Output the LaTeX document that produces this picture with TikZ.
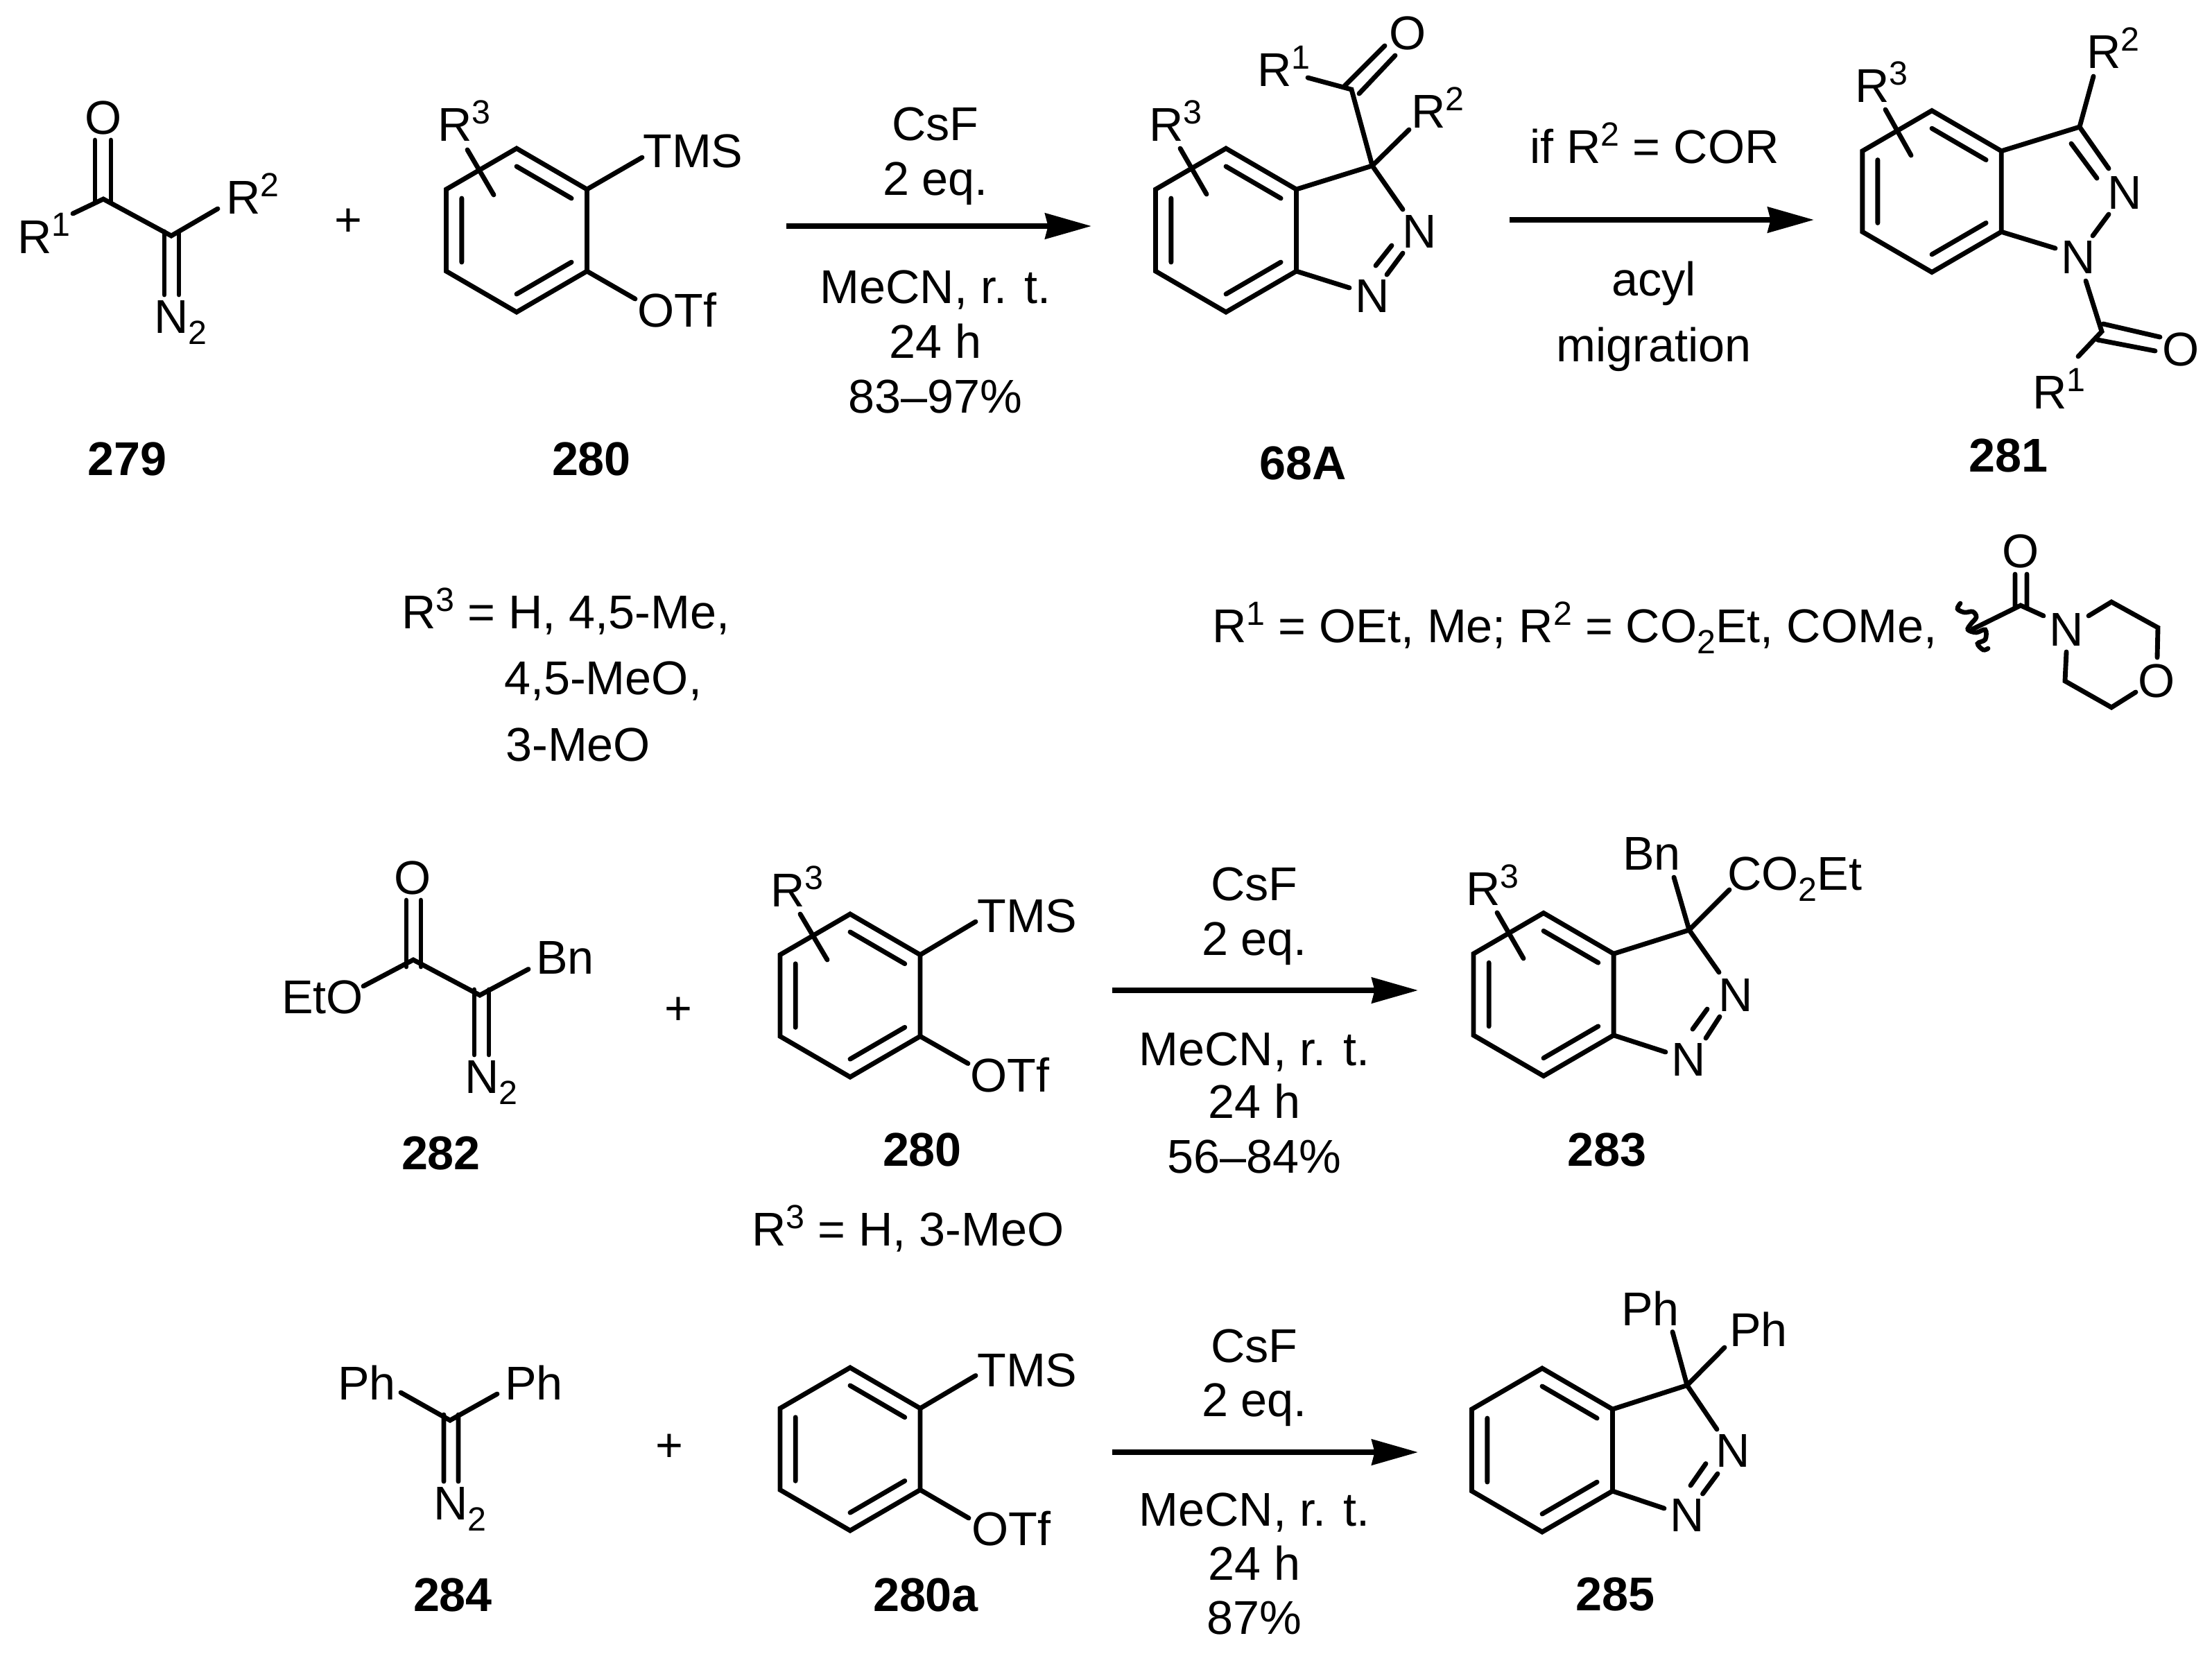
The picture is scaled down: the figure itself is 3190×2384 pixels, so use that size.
\documentclass[tikz,border=0pt]{standalone}
\usepackage{fontspec}
\setmainfont{Liberation Sans}
\usetikzlibrary{arrows.meta}
\newcommand{\mainf}{\fontsize{16.4pt}{19pt}\selectfont}
\newcommand{\sps}[1]{\raisebox{6pt}{\fontsize{11.6pt}{13pt}\selectfont #1}}
\newcommand{\sbs}[1]{\raisebox{-3.84pt}{\fontsize{11.6pt}{13pt}\selectfont #1}}
\newcommand{\C}[3]{\coordinate (#1) at (#2,#3);}
% benzene ring: name, cx, cy, R; double bonds top-right, lower-right, left
\newcommand{\benz}[4]{%
  \pgfmathsetmacro{\hx}{0.86*#4}\pgfmathsetmacro{\hy}{0.5*#4}%
  \C{#1a}{#2}{#3-#4}\C{#1b}{#2+\hx}{#3-\hy}\C{#1c}{#2+\hx}{#3+\hy}%
  \C{#1d}{#2}{#3+#4}\C{#1e}{#2-\hx}{#3+\hy}\C{#1f}{#2-\hx}{#3-\hy}%
  \C{#1ia}{#2}{#3-0.78*#4}\C{#1ib}{#2+0.78*\hx}{#3-0.78*\hy}\C{#1ic}{#2+0.78*\hx}{#3+0.78*\hy}%
  \C{#1id}{#2}{#3+0.78*#4}\C{#1ie}{#2-0.78*\hx}{#3+0.78*\hy}\C{#1if}{#2-0.78*\hx}{#3-0.78*\hy}%
  \draw[ring] (#1a)--(#1b)--(#1c)--(#1d)--(#1e)--(#1f)--cycle;
  \draw[bond] (#1ia)--(#1ib) (#1ic)--(#1id) (#1ie)--(#1if);}
\tikzset{
  x=0.24pt,y=-0.24pt,
  bond/.style={line width=1.65pt,line cap=round,line join=miter},
  ring/.style={line width=1.65pt,line join=miter},
  rxn/.style={line width=1.8pt,-{Stealth[length=16pt,width=8.8pt,inset=1pt]}},
  lab/.style={anchor=base west,inner sep=0pt,outer sep=0pt,font=\mainf,xshift=-0.9pt},
  ctr/.style={anchor=base,inner sep=0pt,outer sep=0pt,font=\mainf},
  num/.style={anchor=base,inner sep=0pt,outer sep=0pt,font=\mainf\bfseries},
}
\begin{document}
\begin{tikzpicture}
\path[use as bounding box,fill=white] (0,0) rectangle (3190,2384);

%% ---- 279
\C{aO1}{137}{202}\C{aO2}{137}{292}\C{aO3}{160}{202}\C{aO4}{160}{292}
\C{aR1}{105}{308}\C{aC1}{149}{287}\C{aC2}{247}{340}\C{aR2}{314}{301}
\C{aN1}{237}{334}\C{aN2}{237}{425}\C{aN3}{258}{334}\C{aN4}{258}{425}
\draw[bond] (aO1)--(aO2) (aO3)--(aO4) (aN1)--(aN2) (aN3)--(aN4);
\draw[bond] (aR1)--(aC1)--(aC2)--(aR2);
\node[ctr] (aO) at (149,193) {O};
\node[lab] (aR1t) at (29,365) {R\sps{1}};
\node[lab] (aR2t) at (330,308) {R\sps{2}};
\node[lab] (aNt) at (226,480) {N\sbs{2}};
\node[num] (n279) at (184,685) {279};
\node[ctr] (plus1) at (502,340) {+};

%% ---- 280
\benz{b}{745}{332}{118}
\C{bR1}{674}{216}\C{bR2}{712}{281}\C{bT}{926}{227}\C{bO}{916}{431}
\draw[bond] (bR1)--(bR2) (bb)--(bT) (bc)--(bO);
\node[lab] (bR3t) at (635,203) {R\sps{3}};
\node[lab] (bTMS) at (931,241) {TMS};
\node[lab] (bOTf) at (923,471) {OTf};
\node[num] (n280) at (853,685) {280};

%% ---- arrow 1
\C{r1s}{1134}{326}\C{r1e}{1574}{326}
\draw[rxn] (r1s)--(r1e);
\node[ctr] (r1a) at (1349,202) {CsF};
\node[ctr] (r1b) at (1349,281) {2 eq.};
\node[ctr] (r1c) at (1349,437) {MeCN, r. t.};
\node[ctr] (r1d) at (1349,516) {24 h};
\node[ctr] (r1f) at (1349,595) {83–97\%};

%% ---- 68A
\benz{c}{1768}{332}{118}
\C{cR1}{1702}{214}\C{cR2}{1740}{280}
\C{cQ}{1979}{239}\C{cNa}{2023}{302}\C{cNb}{1946}{415}
\C{cC}{1949}{129}\C{cRa}{1886}{112}\C{cRb}{2032}{187}
\C{cd1}{1939}{124}\C{cd2}{1997}{66}\C{cd3}{1960}{135}\C{cd4}{2012}{80}
\C{cn1}{2007}{354}\C{cn2}{1984}{383}\C{cn3}{2023}{365}\C{cn4}{2000}{396}
\draw[bond] (cR1)--(cR2) (cb)--(cQ)--(cNa) (cc)--(cNb) (cQ)--(cC)--(cRa) (cQ)--(cRb);
\draw[bond] (cd1)--(cd2) (cd3)--(cd4) (cn1)--(cn2) (cn3)--(cn4);
\node[lab] (cR3t) at (1661,203) {R\sps{3}};
\node[lab] (cR1t) at (1817,124) {R\sps{1}};
\node[lab] (cR2t) at (2039,184) {R\sps{2}};
\node[ctr] (cO) at (2030,71) {O};
\node[ctr] (cNu) at (2047,357) {N};
\node[ctr] (cNl) at (1979,450) {N};
\node[num] (n68A) at (1879,691) {68A};

%% ---- arrow 2
\C{r2s}{2177}{317}\C{r2e}{2616}{317}
\draw[rxn] (r2s)--(r2e);
\node[ctr] (r2a) at (2386,235) {if R\sps{2} = COR};
\node[ctr] (r2b) at (2385,426) {acyl};
\node[ctr] (r2c) at (2385,521) {migration};

%% ---- 281
\benz{d}{2786}{276}{116.5}
\C{dR1}{2719}{158}\C{dR2}{2756}{224}
\C{dQ}{2999}{183}\C{dRa}{3019}{110}\C{dn1}{3041}{243}\C{dn2}{2987}{207}\C{dn3}{3024}{257}
\C{dm1}{3041}{309}\C{dm2}{3018}{340}\C{dNb}{2964}{358}
\C{dNc}{3008}{405}\C{dC}{3031}{478}\C{dRb}{2997}{514}
\C{do1}{3033}{467}\C{do2}{3115}{486}\C{do3}{3025}{490}\C{do4}{3108}{506}
\draw[bond] (dR1)--(dR2) (db)--(dQ)--(dn1) (dn2)--(dn3) (dQ)--(dRa) (dm1)--(dm2) (dc)--(dNb);
\draw[bond] (dNc)--(dC)--(dRb) (do1)--(do2) (do3)--(do4);
\node[lab] (dR3t) at (2679,147) {R\sps{3}};
\node[lab] (dR2t) at (3013,98) {R\sps{2}};
\node[lab] (dR1t) at (2935,589) {R\sps{1}};
\node[ctr] (dNu) at (3064,301) {N};
\node[ctr] (dNl) at (2997,394) {N};
\node[ctr] (dO) at (3145,527) {O};
\node[num] (n281) at (2896,680) {281};

%% ---- substituent lines
\node[lab] (s1) at (583,906) {R\sps{3} = H, 4,5-Me,};
\node[lab] (s2) at (731,1001) {4,5-MeO,};
\node[lab] (s3) at (733,1097) {3-MeO};
\node[lab] (s4) at (1752,926) {R\sps{1} = OEt, Me; R\sps{2} = CO\sbs{2}Et, COMe,};

%% ---- morpholine amide
\C{mW}{2845}{907}\C{mC}{2914}{873}\C{mN1}{2947}{888}
\C{mo1}{2906}{828}\C{mo2}{2906}{877}\C{mo3}{2923}{828}\C{mo4}{2923}{877}
\C{mA}{3012}{888}\C{mB}{3045}{868}\C{mD}{3112}{905}\C{mE}{3111}{948}
\C{mF}{3080}{998}\C{mG}{3045}{1020}\C{mH}{2978}{982}\C{mI}{2980}{940}
\draw[bond] (mW)--(mC)--(mN1) (mo1)--(mo2) (mo3)--(mo4);
\draw[bond] (mA)--(mB)--(mD)--(mE) (mF)--(mG)--(mH)--(mI);
\draw[line width=1.6pt,line cap=round] plot[smooth,tension=0.6] coordinates
  {(2827,870) (2823,878) (2833,883) (2845,882) (2850,890) (2842,900) (2838,908) (2850,912) (2863,908) (2863,922) (2852,928) (2860,937) (2867,935)};
\node[ctr] (mOa) at (2914,818) {O};
\node[ctr] (mNt) at (2980,931) {N};
\node[ctr] (mOb) at (3110,1005) {O};

%% ---- 282
\C{eo1}{586}{1298}\C{eo2}{586}{1394}\C{eo3}{607}{1298}\C{eo4}{607}{1394}
\C{eE}{524}{1422}\C{eC1}{596}{1384}\C{eC2}{692}{1435}\C{eB}{762}{1397.5}
\C{en1}{684}{1427}\C{en2}{684}{1521}\C{en3}{705}{1427}\C{en4}{705}{1521}
\draw[bond] (eo1)--(eo2) (eo3)--(eo4) (en1)--(en2) (en3)--(en4);
\draw[bond] (eE)--(eC1)--(eC2)--(eB);
\node[ctr] (eO) at (595,1289) {O};
\node[lab] (eEt) at (410,1461) {EtO};
\node[lab] (eBn) at (777,1404) {Bn};
\node[lab] (eNt) at (674,1576) {N\sbs{2}};
\node[num] (n282) at (636,1686) {282};
\node[ctr] (plus2) at (978,1477) {+};

%% ---- 280 second row
\benz{f}{1226}{1435.5}{117.5}
\C{fR1}{1154}{1318}\C{fR2}{1193}{1384}\C{fT}{1407}{1329}\C{fO}{1396}{1533.5}
\draw[bond] (fR1)--(fR2) (fb)--(fT) (fc)--(fO);
\node[lab] (fR3t) at (1115,1307.5) {R\sps{3}};
\node[lab] (fTMS) at (1413,1344) {TMS};
\node[lab] (fOTf) at (1403,1574) {OTf};
\node[num] (n280b) at (1330,1681) {280};
\node[lab] (s5) at (1088,1796) {R\sps{3} = H, 3-MeO};

%% ---- arrow 3
\C{r3s}{1604}{1428}\C{r3e}{2045}{1428}
\draw[rxn] (r3s)--(r3e);
\node[ctr] (r3a) at (1809,1298) {CsF};
\node[ctr] (r3b) at (1809,1377) {2 eq.};
\node[ctr] (r3c) at (1809,1536) {MeCN, r. t.};
\node[ctr] (r3d) at (1809,1612) {24 h};
\node[ctr] (r3f) at (1809,1691) {56–84\%};

%% ---- 283
\benz{g}{2226}{1434}{117.5}
\C{gR1}{2159}{1316}\C{gR2}{2197}{1382}
\C{gQ}{2436}{1341}\C{gNa}{2479}{1402}\C{gNb}{2402}{1517}
\C{gBn}{2414}{1265}\C{gCO}{2494}{1283}
\C{gn1}{2462}{1455}\C{gn2}{2441}{1484}\C{gn3}{2480}{1466}\C{gn4}{2460}{1497}
\draw[bond] (gR1)--(gR2) (gb)--(gQ)--(gNa) (gc)--(gNb) (gQ)--(gBn) (gQ)--(gCO);
\draw[bond] (gn1)--(gn2) (gn3)--(gn4);
\node[lab] (gR3t) at (2118,1305) {R\sps{3}};
\node[lab] (gBnt) at (2344,1254) {Bn};
\node[lab] (gCOt) at (2495,1283.5) {CO\sbs{2}Et};
\node[ctr] (gNu) at (2503,1458) {N};
\node[ctr] (gNl) at (2435,1551) {N};
\node[num] (n283) at (2317,1681) {283};

%% ---- 284
\C{hP1}{578}{2008}\C{hC}{649}{2048}\C{hP2}{717}{2010}
\C{hn1}{640}{2040}\C{hn2}{640}{2136}\C{hn3}{661}{2040}\C{hn4}{661}{2136}
\draw[bond] (hP1)--(hC)--(hP2) (hn1)--(hn2) (hn3)--(hn4);
\node[lab] (hPa) at (491,2018) {Ph};
\node[lab] (hPb) at (732,2018) {Ph};
\node[lab] (hNt) at (629,2191) {N\sbs{2}};
\node[num] (n284) at (653,2323) {284};
\node[ctr] (plus3) at (965.5,2107) {+};

%% ---- 280a
\benz{i}{1226}{2089.5}{117.5}
\C{iT}{1407}{1983.5}\C{iO}{1397}{2189}
\draw[bond] (ib)--(iT) (ic)--(iO);
\node[lab] (iTMS) at (1413,1999) {TMS};
\node[lab] (iOTf) at (1405,2228) {OTf};
\node[num] (n280a) at (1335,2323) {280a};

%% ---- arrow 4
\C{r4s}{1604}{2094}\C{r4e}{2045}{2094}
\draw[rxn] (r4s)--(r4e);
\node[ctr] (r4a) at (1809,1964) {CsF};
\node[ctr] (r4b) at (1809,2042) {2 eq.};
\node[ctr] (r4c) at (1809,2200) {MeCN, r. t.};
\node[ctr] (r4d) at (1809,2278) {24 h};
\node[ctr] (r4f) at (1809,2356) {87\%};

%% ---- 285
\benz{j}{2224}{2091}{118}
\C{jQ}{2433}{1997.5}\C{jNa}{2476}{2061}\C{jNb}{2400}{2175}
\C{jP1}{2412}{1920.5}\C{jP2}{2487}{1943}
\C{jn1}{2460}{2110.5}\C{jn2}{2438}{2142}\C{jn3}{2477}{2125}\C{jn4}{2455.5}{2154}
\draw[bond] (jb)--(jQ)--(jNa) (jc)--(jNb) (jQ)--(jP1) (jQ)--(jP2) (jn1)--(jn2) (jn3)--(jn4);
\node[lab] (jPa) at (2342,1911) {Ph};
\node[lab] (jPb) at (2498,1941) {Ph};
\node[ctr] (jNu) at (2499,2115) {N};
\node[ctr] (jNl) at (2433,2208) {N};
\node[num] (n285) at (2329,2322) {285};
\end{tikzpicture}
\end{document}
